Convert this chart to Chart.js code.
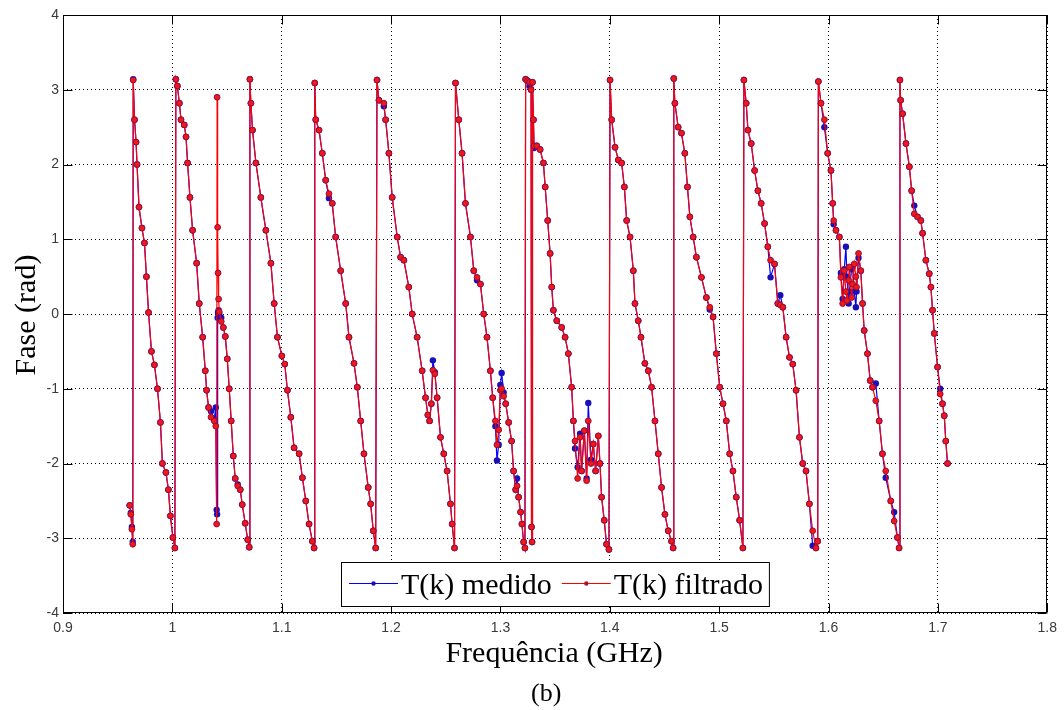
<!DOCTYPE html>
<html><head><meta charset="utf-8">
<script src="https://cdn.jsdelivr.net/npm/chart.js@4.4.1/dist/chart.umd.min.js"></script>
<style>html,body{margin:0;padding:0;background:#fff;}#c{display:block;}</style>
</head><body>
<canvas id="c" width="1064" height="710"></canvas>
<script>
// Frequency (GHz)
const frequencia = [
0.9610,0.9620,0.9630,0.9638,
0.9642,0.9654,0.9668,0.9677,0.9695,0.9722,0.9745,0.9763,0.9782,0.9809,0.9836,0.9864,0.9891,0.9909,0.9941,0.9964,0.9982,1.0005,1.0023,
1.0032,1.0046,1.0064,1.0079,1.0109,1.0125,1.0139,1.0161,1.0185,1.0222,1.0246,1.0277,1.0301,1.0313,1.0331,1.0353,1.0383,1.0397,1.0405,1.0409,1.0414,1.0418,1.0423,
1.0429,1.0447,1.0466,1.0484,1.0502,1.0520,1.0538,1.0557,1.0575,1.0598,1.0621,1.0639,1.0666,1.0689,1.0703,
1.0709,1.0718,1.0733,1.0764,1.0809,1.0855,1.0901,1.0931,1.0961,1.1001,1.1028,1.1052,1.1083,1.1113,1.1159,1.1189,1.1220,1.1250,1.1280,1.1296,
1.1302,1.1311,1.1341,1.1371,1.1402,1.1432,1.1462,1.1493,1.1539,1.1585,1.1615,1.1661,1.1691,1.1722,1.1752,1.1791,1.1813,1.1837,1.1859,
1.1871,1.1889,1.1934,1.1950,1.1980,1.2010,1.2056,1.2087,1.2117,1.2162,1.2193,1.2238,1.2284,1.2315,1.2336,1.2352,1.2368,1.2382,1.2400,1.2421,1.2452,1.2482,1.2512,1.2543,1.2558,1.2580,
1.2589,1.2619,1.2649,1.2680,1.2726,1.2756,1.2786,1.2817,1.2847,1.2877,1.2908,1.2929,1.2954,1.2968,1.2984,1.2999,1.3011,1.3029,1.3048,1.3075,1.3102,1.3120,1.3139,1.3152,1.3166,1.3184,1.3196,1.3212,1.3224,
1.3230,1.3248,1.3266,1.3280,1.3284,1.3289,1.3293,
1.3302,1.3307,1.3332,1.3363,1.3393,1.3409,1.3432,1.3454,1.3469,1.3484,1.3515,1.3560,1.3591,1.3621,1.3651,1.3667,1.3682,1.3706,1.3728,1.3742,1.3767,1.3788,1.3803,1.3828,1.3849,1.3870,1.3895,1.3910,1.3925,1.3949,1.3970,1.3992,
1.4002,1.4017,1.4048,1.4078,1.4108,1.4133,1.4154,1.4185,1.4215,1.4230,1.4260,1.4285,1.4321,1.4352,1.4382,1.4413,1.4443,1.4473,1.4504,1.4534,1.4564,1.4579,
1.4585,1.4595,1.4625,1.4655,1.4686,1.4710,1.4732,1.4762,1.4792,1.4838,1.4883,1.4914,1.4944,1.4974,1.5005,1.5035,1.5065,1.5096,1.5126,1.5156,1.5187,1.5217,
1.5226,1.5247,1.5263,1.5293,1.5324,1.5354,1.5384,1.5415,1.5445,1.5470,1.5506,1.5536,1.5559,1.5582,1.5612,1.5643,1.5673,1.5703,1.5734,1.5764,1.5794,1.5825,1.5855,1.5885,1.5901,
1.5907,1.5931,1.5962,1.5992,1.6022,1.6038,1.6047,1.6068,1.6099,1.6113,1.6129,1.6144,1.6159,1.6168,1.6184,1.6190,1.6211,1.6220,1.6235,1.6250,1.6256,1.6274,1.6295,1.6311,1.6326,1.6356,1.6381,1.6402,1.6432,1.6463,1.6493,1.6523,1.6569,1.6600,1.6630,1.6645,
1.6653,1.6659,1.6677,1.6708,1.6739,1.6760,1.6784,1.6814,1.6844,1.6860,1.6890,1.6921,1.6936,1.6951,1.6967,1.6997,1.7021,1.7042,1.7058,1.7072,1.7088
];
// Phase of filtered T(k) (rad)
const faseFiltrado = [
-2.56,-2.68,-2.88,-3.08,
3.13,2.60,2.30,2.00,1.43,1.15,0.95,0.50,0.02,-0.50,-0.68,-1.00,-1.45,-2.00,-2.12,-2.35,-2.70,-2.99,-3.13,
3.14,3.05,2.82,2.60,2.53,2.37,2.02,1.56,1.12,0.68,0.14,-0.31,-0.76,-1.02,-1.25,-1.38,-1.43,-1.50,-2.81,2.90,1.16,0.55,0.20,
0.03,-0.10,-0.18,-0.30,-0.60,-1.00,-1.43,-1.90,-2.20,-2.30,-2.35,-2.55,-2.80,-3.02,-3.12,
3.14,2.82,2.46,2.02,1.56,1.12,0.68,0.14,-0.31,-0.56,-0.67,-1.02,-1.38,-1.79,-1.87,-2.19,-2.50,-2.81,-3.04,-3.13,
3.09,2.60,2.46,2.15,1.79,1.61,1.48,1.03,0.58,0.14,-0.31,-0.66,-0.98,-1.43,-1.87,-2.32,-2.54,-2.90,-3.13,
3.13,2.86,2.82,2.60,2.15,1.56,1.03,0.76,0.72,0.36,0.00,-0.31,-0.76,-1.12,-1.35,-1.43,-1.20,-0.75,-0.80,-1.12,-1.65,-1.87,-2.10,-2.54,-2.81,-3.13,
3.09,2.60,2.15,1.48,1.03,0.58,0.49,0.40,0.00,-0.31,-0.76,-1.12,-1.43,-1.75,-1.55,-1.02,-1.00,-1.10,-1.20,-1.45,-1.70,-2.10,-2.35,-2.30,-2.45,-2.65,-2.81,-3.05,-3.13,
3.14,3.12,3.10,3.00,-2.85,-3.05,3.10,
2.60,2.25,2.25,2.20,2.02,1.70,1.25,0.81,0.36,0.05,-0.09,-0.18,-0.31,-0.53,-0.98,-1.43,-1.70,-2.20,-1.65,-2.10,-1.56,-2.23,-1.43,-2.00,-1.74,-2.10,-1.63,-2.00,-2.45,-2.76,-3.08,-3.15,
3.13,2.60,2.23,2.06,2.02,1.70,1.25,1.03,0.58,0.14,-0.09,-0.31,-0.66,-0.76,-0.98,-1.43,-1.87,-2.32,-2.68,-2.90,-3.04,-3.13,
3.15,2.82,2.50,2.42,2.15,1.70,1.30,1.03,0.76,0.49,0.22,0.09,-0.04,-0.53,-0.98,-1.20,-1.43,-1.87,-2.10,-2.45,-2.76,-3.13,
3.13,2.82,2.46,2.28,1.92,1.65,1.48,1.21,0.90,0.72,0.67,0.14,0.12,0.09,-0.31,-0.58,-0.67,-1.02,-1.65,-2.00,-2.10,-2.54,-2.90,-3.13,-3.04,
3.11,2.82,2.60,2.15,1.92,1.48,1.25,1.12,1.03,0.49,0.14,0.58,0.30,0.18,0.45,0.63,0.22,0.40,0.67,0.50,0.36,0.81,0.58,0.14,-0.22,-0.53,-0.89,-0.98,-1.16,-1.43,-1.87,-2.10,-2.50,-2.77,-2.99,-3.13,
3.13,2.86,2.68,2.28,1.97,1.65,1.34,1.30,1.25,1.08,0.72,0.54,0.36,0.05,-0.26,-0.71,-1.07,-1.20,-1.36,-1.70,-2.00
];
// Phase of measured T(k) (rad)
const faseMedido = [
-2.56,-2.66,-2.85,-3.05,
3.14,2.60,2.30,2.00,1.43,1.15,0.95,0.50,0.02,-0.50,-0.68,-1.00,-1.45,-2.00,-2.12,-2.35,-2.70,-2.99,-3.13,
3.14,3.05,2.82,2.60,2.53,2.37,2.02,1.56,1.12,0.68,0.14,-0.31,-0.76,-1.02,-1.25,-1.30,-1.40,-1.25,-2.62,-2.68,-0.05,0.02,0.05,
0.00,-0.05,-0.18,-0.30,-0.60,-1.00,-1.43,-1.90,-2.20,-2.28,-2.35,-2.55,-2.80,-3.02,-3.12,
3.14,2.82,2.46,2.02,1.56,1.12,0.68,0.14,-0.31,-0.56,-0.67,-1.02,-1.38,-1.79,-1.87,-2.19,-2.50,-2.81,-3.04,-3.13,
3.09,2.60,2.46,2.15,1.79,1.55,1.48,1.03,0.58,0.14,-0.31,-0.66,-0.98,-1.43,-1.87,-2.32,-2.54,-2.90,-3.13,
3.13,2.86,2.78,2.60,2.15,1.56,1.03,0.76,0.72,0.36,0.00,-0.31,-0.76,-1.12,-1.35,-1.43,-1.20,-0.62,-0.78,-1.12,-1.65,-1.87,-2.10,-2.54,-2.81,-3.13,
3.09,2.60,2.15,1.48,1.03,0.58,0.45,0.40,0.00,-0.31,-0.76,-1.12,-1.50,-1.96,-1.75,-0.95,-0.79,-1.05,-1.20,-1.45,-1.70,-2.10,-2.35,-2.20,-2.45,-2.65,-2.81,-3.05,-3.13,
3.14,3.12,3.05,3.00,-2.85,-3.05,3.10,
2.60,2.22,2.25,2.20,2.02,1.70,1.25,0.81,0.36,0.05,-0.09,-0.18,-0.31,-0.53,-0.98,-1.43,-1.80,-2.05,-1.60,-2.10,-1.56,-2.20,-1.19,-1.95,-1.74,-2.10,-1.63,-2.00,-2.45,-2.76,-3.08,-3.15,
3.13,2.60,2.23,2.06,2.02,1.70,1.25,1.03,0.58,0.14,-0.09,-0.31,-0.66,-0.76,-0.98,-1.43,-1.87,-2.32,-2.68,-2.90,-3.04,-3.13,
3.15,2.82,2.50,2.42,2.15,1.70,1.30,1.03,0.76,0.49,0.22,0.06,-0.04,-0.53,-0.98,-1.20,-1.43,-1.87,-2.10,-2.45,-2.76,-3.13,
3.13,2.82,2.46,2.28,1.92,1.65,1.48,1.21,0.90,0.49,0.67,0.14,0.25,0.09,-0.31,-0.58,-0.67,-1.02,-1.65,-2.00,-2.10,-2.54,-3.10,-3.13,-3.04,
3.11,2.82,2.50,2.15,1.92,1.48,1.20,1.12,1.03,0.55,0.20,0.60,0.90,0.50,0.14,0.30,0.60,0.63,0.30,0.09,0.30,0.75,0.58,0.14,-0.22,-0.53,-0.89,-0.98,-0.93,-1.43,-1.87,-2.19,-2.50,-2.65,-2.99,-3.13,
3.13,2.86,2.68,2.28,1.97,1.65,1.45,1.30,1.25,1.08,0.72,0.54,0.36,0.05,-0.26,-0.71,-1.00,-1.20,-1.36,-1.70,-2.00
];
const seriesNames = ['T(k) medido', 'T(k) filtrado'];
const xTickValues = [0.9, 1.0, 1.1, 1.2, 1.3, 1.4, 1.5, 1.6, 1.7, 1.8];
const xTickLabels = ['0.9', '1', '1.1', '1.2', '1.3', '1.4', '1.5', '1.6', '1.7', '1.8'];
const yTickValues = [-4, -3, -2, -1, 0, 1, 2, 3, 4];
const yTickLabels = ['-4', '-3', '-2', '-1', '0', '1', '2', '3', '4'];
const xTitle = 'Frequência (GHz)';
const yTitle = 'Fase (rad)';
const caption = '(b)';

const toPoints = (xs, ys) => xs.map((x, i) => ({x: x, y: ys[i]}));

const boxPlugin = {
  id: 'matlabBox',
  afterDraw(chart) {
    const {ctx, chartArea: a, scales} = chart;
    ctx.save();
    ctx.strokeStyle = '#000';
    ctx.lineWidth = 1;
    const L = Math.round(a.left) + 0.5, R = Math.round(a.right) - 0.5;
    const T = Math.round(a.top) + 0.5, B = Math.round(a.bottom) - 0.5;
    ctx.strokeRect(L, T, R - L, B - T);
    const tl = 9;
    ctx.beginPath();
    xTickValues.forEach(v => {
      const px = Math.round(scales.x.getPixelForValue(v)) + 0.5;
      ctx.moveTo(px, B); ctx.lineTo(px, B - tl);
      ctx.moveTo(px, T); ctx.lineTo(px, T + tl);
    });
    yTickValues.forEach(v => {
      const py = Math.round(scales.y.getPixelForValue(v)) + 0.5;
      ctx.moveTo(L, py); ctx.lineTo(L + tl, py);
      ctx.moveTo(R, py); ctx.lineTo(R - tl, py);
    });
    ctx.stroke();
    ctx.restore();
  }
};

const textPlugin = {
  id: 'matlabTexts',
  afterDraw(chart) {
    const {ctx, chartArea: a} = chart;
    ctx.save();
    ctx.fillStyle = '#000';
    ctx.font = '30px "Liberation Serif", "Times New Roman", serif';
    ctx.textAlign = 'center';
    ctx.textBaseline = 'alphabetic';
    const cx = (a.left + a.right) / 2;
    ctx.fillText(xTitle, cx - 1, 662);
    ctx.font = '26px "Liberation Serif", "Times New Roman", serif';
    ctx.fillText(caption, cx - 9, 701);
    ctx.font = '30px "Liberation Serif", "Times New Roman", serif';
    ctx.translate(35, (a.top + a.bottom) / 2 + 1);
    ctx.rotate(-Math.PI / 2);
    ctx.fillText(yTitle, 0, 0);
    ctx.restore();
  }
};

const legendPlugin = {
  id: 'matlabLegend',
  afterDraw(chart) {
    const {ctx, chartArea: a} = chart;
    const ds = chart.data.datasets;
    ctx.save();
    ctx.font = '30px "Liberation Serif", "Times New Roman", serif';
    const lineLen = 49, gapL = 8, gapT = 3, gapR = 6, between = 10;
    const order = [0, 1];
    let w = gapL;
    order.forEach((k, j) => {
      w += lineLen + gapT + ctx.measureText(ds[k].label).width + (j < order.length - 1 ? between : gapR);
    });
    const h = 44;
    const x0 = Math.round((a.left + a.right) / 2 - w / 2);
    const y0 = Math.round(a.bottom - 7 - h);
    ctx.fillStyle = '#fff';
    ctx.fillRect(x0, y0, w, h);
    ctx.strokeStyle = '#000';
    ctx.lineWidth = 1;
    ctx.strokeRect(x0 + 0.5, y0 + 0.5, w, h);
    let x = x0 + gapL;
    const ym = y0 + 21.5;
    order.forEach((k, j) => {
      const d = ds[k];
      ctx.strokeStyle = d.borderColor;
      ctx.lineWidth = 1;
      ctx.beginPath(); ctx.moveTo(x, ym); ctx.lineTo(x + lineLen, ym); ctx.stroke();
      ctx.fillStyle = d.legendDot;
      ctx.beginPath(); ctx.arc(x + lineLen / 2, ym, 2.2, 0, Math.PI * 2); ctx.fill();
      x += lineLen + gapT;
      ctx.fillStyle = '#000';
      ctx.textAlign = 'left';
      ctx.textBaseline = 'alphabetic';
      ctx.fillText(d.label, x, y0 + 32);
      x += ctx.measureText(d.label).width + between;
    });
    ctx.restore();
  }
};

const tickFont = {family: '"Liberation Sans", Arial, sans-serif', size: 14};

new Chart(document.getElementById('c').getContext('2d'), {
  type: 'scatter',
  data: {
    datasets: [
      {
        label: seriesNames[0],
        data: toPoints(frequencia, faseMedido),
        showLine: true,
        borderColor: '#0000ff',
        backgroundColor: '#1010c0',
        legendDot: '#1010c0',
        borderWidth: 1.2,
        pointRadius: 3.2,
        pointBorderWidth: 0,
        pointBackgroundColor: '#1a10b8',
        order: 2
      },
      {
        label: seriesNames[1],
        data: toPoints(frequencia, faseFiltrado),
        showLine: true,
        borderColor: '#ff0000',
        backgroundColor: '#e4101c',
        legendDot: '#b01030',
        borderWidth: 1.2,
        pointRadius: 2.9,
        pointBorderWidth: 1,
        pointBorderColor: '#9a0a36',
        pointBackgroundColor: '#f01818',
        order: 1
      }
    ]
  },
  options: {
    responsive: false,
    animation: false,
    devicePixelRatio: 1,
    layout: {padding: {top: 15, right: 14, left: 0, bottom: 0}},
    plugins: {legend: {display: false}, tooltip: {enabled: false}},
    scales: {
      x: {
        type: 'linear', min: 0.9, max: 1.8,
        afterFit: s => { s.height = 97; },
        afterBuildTicks: s => { s.ticks = xTickValues.map(v => ({value: v})); },
        ticks: {
          callback: (v, i) => xTickLabels[i],
          font: tickFont, color: '#3a3a3a', padding: 7, maxRotation: 0, autoSkip: false
        },
        grid: {color: '#000', lineWidth: 1, drawTicks: false},
        border: {display: false, dash: [1, 3]}
      },
      y: {
        type: 'linear', min: -4, max: 4,
        afterFit: s => { s.width = 63; },
        afterBuildTicks: s => { s.ticks = yTickValues.map(v => ({value: v})); },
        ticks: {
          callback: (v, i) => yTickLabels[i],
          font: tickFont, color: '#3a3a3a', padding: 4, autoSkip: false
        },
        grid: {color: '#000', lineWidth: 1, drawTicks: false},
        border: {display: false, dash: [1, 3]}
      }
    }
  },
  plugins: [boxPlugin, textPlugin, legendPlugin]
});
</script>
</body></html>
